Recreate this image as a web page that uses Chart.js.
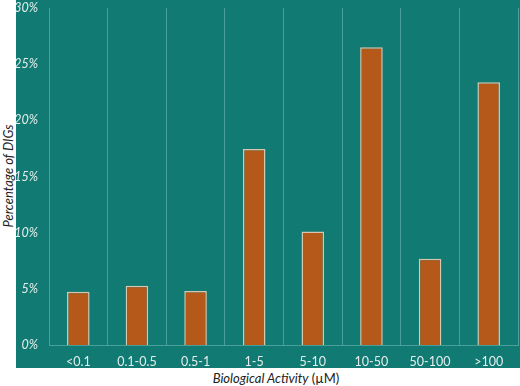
<!DOCTYPE html>
<html>
<head>
<meta charset="utf-8">
<script src="https://cdn.jsdelivr.net/npm/chart.js@4"></script>
<style>
  body { margin: 0; background: #fff; }
  #wrap { position: relative; width: 520px; height: 386px; font-family: Lato, sans-serif; color: #222; }
  #box { position: absolute; left: 16px; top: 0; width: 504px; height: 368px; background: #117a73; }
  #ytitle { position: absolute; left: 8px; top: 176px; transform: translate(-50%, -50%) rotate(-90deg); white-space: nowrap; font-size: 13px; font-style: italic; }
  #xtitle { position: absolute; left: 276px; top: 378px; transform: translate(-50%, -50%); white-space: nowrap; font-size: 13px; }
</style>
</head>
<body>
<div id="wrap">
  <div id="box"><canvas id="myChart" width="504" height="368"></canvas></div>
  <div id="ytitle">Percentage of DIGs</div>
  <div id="xtitle"><i>Biological Activity</i> (µM)</div>
</div>
<script>
const categories = ['<0.1', '0.1-0.5', '0.5-1', '1-5', '5-10', '10-50', '50-100', '>100'];
const percentDIGs = [4.75, 5.28, 4.81, 17.45, 10.1, 26.5, 7.68, 23.4];
const yTicks = [0, 5, 10, 15, 20, 25, 30];

window.onload = function () {
    const ctx = document.getElementById('myChart').getContext('2d');
    const lineColor = 'rgba(120, 190, 185, 0.55)';
    const textColor = '#e4eeec';

    new Chart(ctx, {
        type: 'bar',
        data: {
            labels: categories,
            datasets: [{
                data: percentDIGs,
                backgroundColor: '#b5591b',
                borderColor: '#d6c8b0',
                borderWidth: 1.5,
                barPercentage: 0.385,
                categoryPercentage: 1
            }]
        },
        options: {
            responsive: false,
            animation: false,
            layout: { padding: { top: 8, right: 2, left: 0, bottom: 0 } },
            plugins: { legend: { display: false }, tooltip: { enabled: false } },
            scales: {
                x: {
                    grid: { color: lineColor, offset: true, drawTicks: false, lineWidth: 1 },
                    border: { display: true, color: lineColor },
                    ticks: { color: textColor, font: { family: 'Lato', size: 12.5 }, padding: 9, maxRotation: 0 },
                    afterFit: function (scale) {
                        scale.height = 23;
                        scale.paddingLeft = 0;
                        scale.paddingRight = 0;
                    }
                },
                y: {
                    min: 0,
                    max: 30,
                    afterBuildTicks: function (scale) { scale.ticks = yTicks.map(v => ({ value: v })); },
                    grid: { display: false, drawTicks: false },
                    border: { display: false },
                    ticks: {
                        color: textColor,
                        font: { family: 'Lato', size: 12.5, style: 'italic' },
                        padding: 11,
                        callback: v => v + '%'
                    },
                    afterFit: function (scale) {
                        scale.width = 33;
                        scale.paddingTop = 0;
                        scale.paddingBottom = 0;
                    }
                }
            }
        }
    });
};
</script>
</body>
</html>
